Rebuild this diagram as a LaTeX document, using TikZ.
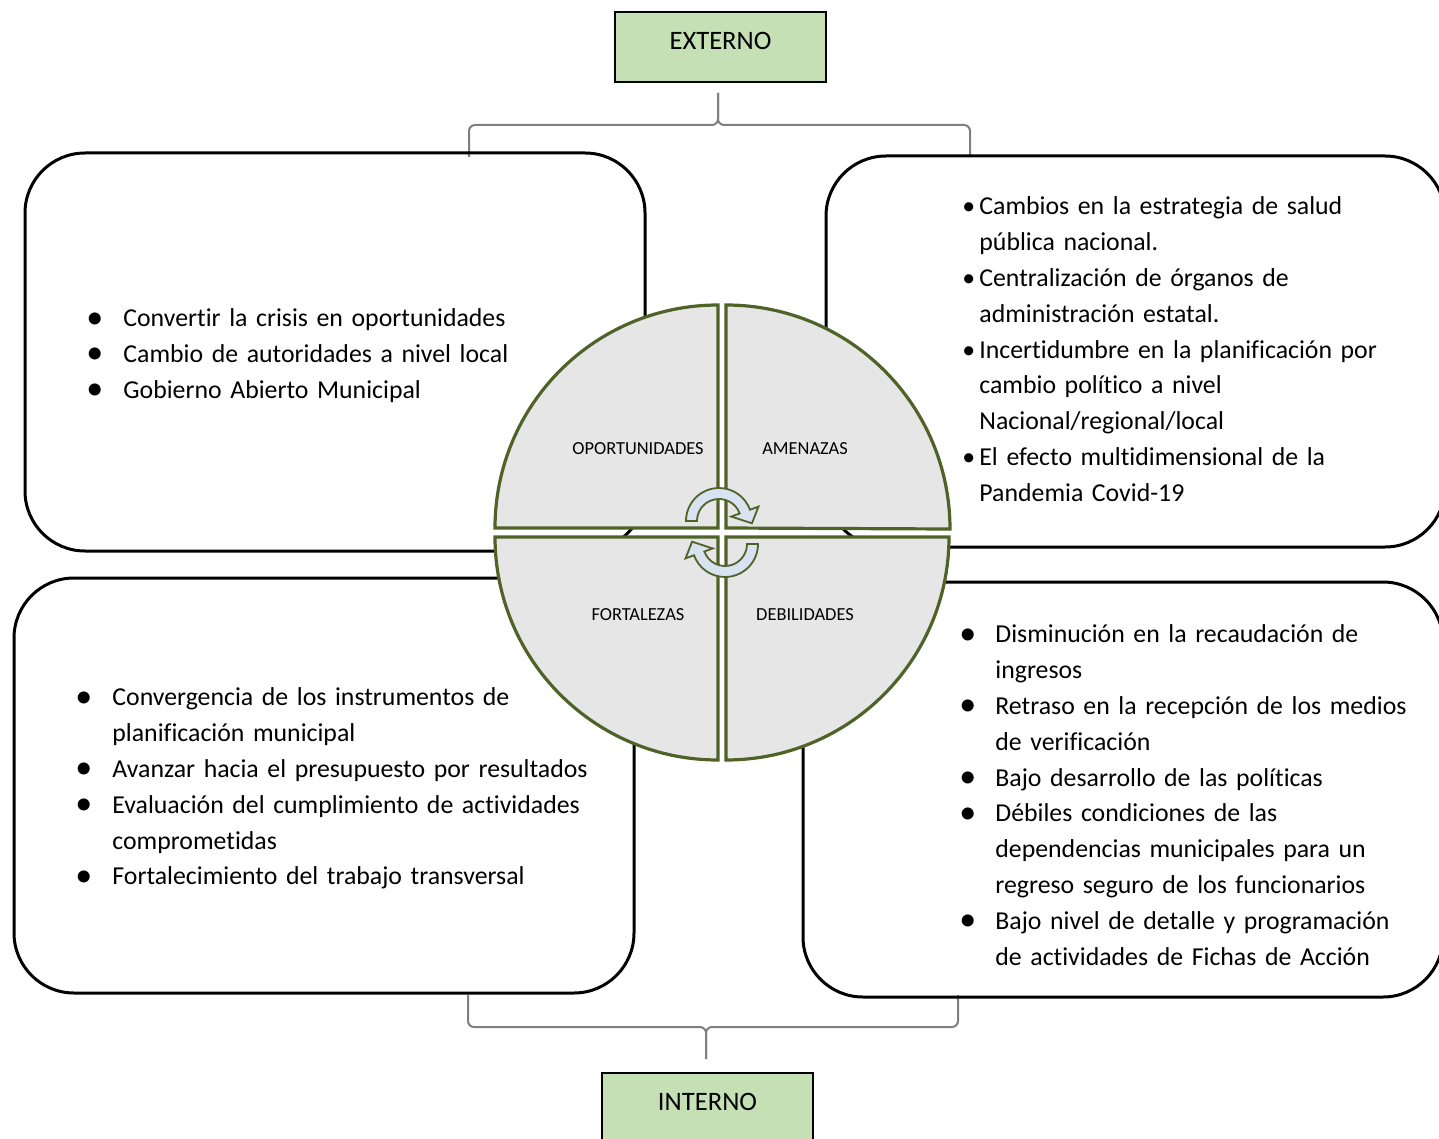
\documentclass[tikz,border=0pt]{standalone}
\usepackage{fontspec}
\setmainfont{Carlito}[Ligatures=NoCommon]
\definecolor{taggreen}{RGB}{197,224,180}
\definecolor{bracketgrey}{RGB}{127,127,127}
\definecolor{quadline}{RGB}{79,98,40}
\definecolor{quadfill}{RGB}{230,230,230}
\definecolor{arrowfill}{RGB}{216,226,240}
\newcommand{\bul}[2][18.5pt]{\par\hangindent=#1\hangafter=1\noindent
  \makebox[#1][l]{\raisebox{-0.6pt}{\fontsize{17}{17}\selectfont\textbullet}}#2\par}
\newcommand{\sbul}[1]{\par\hangindent=8.5pt\hangafter=1\noindent
  \makebox[8.5pt][l]{\textbullet}#1\par}
\tikzset{
  swotbox/.style={draw=black,line width=1.5pt,rounded corners=30pt},
  bracket/.style={draw=bracketgrey,line width=1pt,rounded corners=3pt},
  tag/.style={draw=black,fill=taggreen,line width=0.6pt,inner sep=0pt,minimum width=105.5pt,
    text height=18.8pt,text depth=16.2pt,font=\fontsize{13.3}{16}\selectfont},
  quarter/.style={draw=quadline,fill=quadfill,line width=1.6pt},
  qlabel/.style={font=\fontsize{9.2}{11}\selectfont},
  turn/.style={draw=quadline,fill=arrowfill,line width=0.9pt},
  swotlist/.style={anchor=base west,inner sep=0pt,align=left,text width=#1,
    font=\fontsize{12.9}{17.9}\selectfont}
}
\begin{document}
\begin{tikzpicture}[x=0.5pt,y=-0.5pt]
  \useasboundingbox (0,0) rectangle (1439,1139);
  \clip (0,0) rectangle (1439,1139);

  \node[tag] (ext) at (720.5,47) {EXTERNO};
  \node[tag] (int) at (707.5,1108) {INTERNO};

  \coordinate (exttip) at (718,93);
  \coordinate (tlfoot) at (469,157);
  \coordinate (trfoot) at (970,157);
  \draw[bracket] (tlfoot) -- ++(0,-32) -| (exttip);
  \draw[bracket] (trfoot) -- ++(0,-32) -| (exttip);

  \coordinate (inttip) at (706,1059);
  \coordinate (blfoot) at (468,995);
  \coordinate (brfoot) at (958,995);
  \draw[bracket] (blfoot) -- ++(0,32) -| (inttip);
  \draw[bracket] (brfoot) -- ++(0,32) -| (inttip);

  \draw[swotbox] (25,153) rectangle (645,551);
  \draw[swotbox] (826,156) rectangle (1445,547);
  \draw[swotbox] (14,578) rectangle (634,993);
  \draw[swotbox] (803,582) rectangle (1443,997);

  \node[swotlist=280pt] (opps) at (86,291) {%
    \bul{Convertir la crisis en oportunidades}
    \bul{Cambio de autoridades a nivel local}
    \bul{Gobierno Abierto Municipal}};
  \node[swotlist=236pt] (threats) at (962,179) {%
    \sbul{Cambios en la estrategia de salud\newline pública nacional.}
    \sbul{Centralización de órganos de\newline administración estatal.}
    \sbul{Incertidumbre en la planificación por\newline cambio político a nivel\newline Nacional/regional/local}
    \sbul{El efecto multidimensional de la\newline Pandemia Covid-19}};
  \node[swotlist=280pt] (strengths) at (75,670) {%
    \bul{Convergencia de los instrumentos de\newline planificación municipal}
    \bul{Avanzar hacia el presupuesto por resultados}
    \bul{Evaluación del cumplimiento de actividades\newline comprometidas}
    \bul{Fortalecimiento del trabajo transversal}};
  \node[swotlist=236pt] (weak) at (959,607) {%
    \bul[18pt]{Disminución en la recaudación de\newline ingresos}
    \bul[18pt]{Retraso en la recepción de los medios\newline de verificación}
    \bul[18pt]{Bajo desarrollo de las políticas}
    \bul[18pt]{Débiles condiciones de las\newline dependencias municipales para un\newline regreso seguro de los funcionarios}
    \bul[18pt]{Bajo nivel de detalle y programación\newline de actividades de Fichas de Acción}};

  \draw[quarter] (718,528) -- (495,528) arc[start angle=180,end angle=270,radius=223] -- cycle;
  \draw[quarter] (726,528) -- (726,305) arc[start angle=270,end angle=360,radius=224] -- cycle;
  \draw[quarter] (718,537) -- (718,760) arc[start angle=90,end angle=180,radius=223] -- cycle;
  \draw[quarter] (726,537) -- (949,537) arc[start angle=0,end angle=90,radius=223] -- cycle;

  \node[qlabel] (o) at (638,449) {OPORTUNIDADES};
  \node[qlabel] (a) at (805,449) {AMENAZAS};
  \node[qlabel] (f) at (638,615) {FORTALEZAS};
  \node[qlabel] (d) at (805,615) {DEBILIDADES};

  \begin{scope}[shift={(719,521)},y=0.5pt]
    \path[turn] (180:33) arc[start angle=180,end angle=20,radius=33] -- (20:42) -- (-4:33)
      -- (20:13) -- (20:22) arc[start angle=20,end angle=180,radius=22] -- cycle;
  \end{scope}
  \begin{scope}[shift={(725,544)},y=0.5pt,rotate=180]
    \path[turn] (180:33) arc[start angle=180,end angle=20,radius=33] -- (20:42) -- (-4:33)
      -- (20:13) -- (20:22) arc[start angle=20,end angle=180,radius=22] -- cycle;
  \end{scope}
\end{tikzpicture}
\end{document}
